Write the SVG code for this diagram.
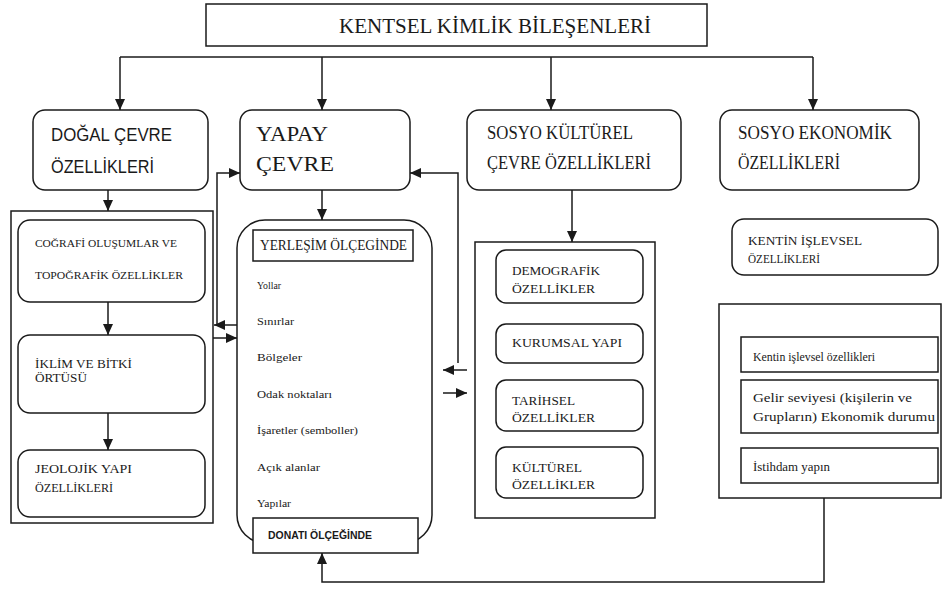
<svg xmlns="http://www.w3.org/2000/svg" width="944" height="593" viewBox="0 0 944 593">
<style>
.b{fill:#fff;stroke:#1a1a1a;stroke-width:1.5}
.c{fill:none;stroke:#1a1a1a;stroke-width:1.5}
text{fill:#1a1a1a}
</style>
<defs>
<marker id="ah" markerUnits="userSpaceOnUse" markerWidth="12" markerHeight="10" refX="11" refY="5" orient="auto">
<path d="M0,0 L11,5 L0,10 z" fill="#1a1a1a"/>
</marker>
</defs>
<rect width="944" height="593" fill="#fff"/>

<g font-family="'Liberation Serif', 'DejaVu Serif', serif">
<g id="kentsel">
<rect class="b" x="206" y="4" width="501" height="42"/>
<text x="339" y="33" font-size="20" textLength="312" lengthAdjust="spacingAndGlyphs">KENTSEL KİMLİK BİLEŞENLERİ</text>
</g>

<g id="dogal">
<rect class="b" x="33" y="110" width="175" height="80" rx="12"/>
<text x="51" y="141" font-size="18" font-family="'Liberation Sans Narrow', 'Liberation Sans', sans-serif" textLength="121" lengthAdjust="spacingAndGlyphs">DOĞAL ÇEVRE</text>
<text x="51" y="173" font-size="18" font-family="'Liberation Sans Narrow', 'Liberation Sans', sans-serif" textLength="103" lengthAdjust="spacingAndGlyphs">ÖZELLİKLERİ</text>
</g>

<g id="yapay">
<rect class="b" x="240" y="110" width="170" height="80" rx="12"/>
<text x="256" y="141" font-size="22" textLength="72" lengthAdjust="spacingAndGlyphs">YAPAY</text>
<text x="256" y="171" font-size="22" textLength="78" lengthAdjust="spacingAndGlyphs">ÇEVRE</text>
</g>

<g id="sosyokulturel">
<rect class="b" x="467" y="110" width="214" height="80" rx="12"/>
<text x="487" y="139" font-size="18" textLength="146" lengthAdjust="spacingAndGlyphs">SOSYO KÜLTÜREL</text>
<text x="487" y="169" font-size="18" textLength="164" lengthAdjust="spacingAndGlyphs">ÇEVRE ÖZELLİKLERİ</text>
</g>

<g id="sosyoekonomik">
<rect class="b" x="720" y="110" width="199" height="80" rx="12"/>
<text x="738" y="139" font-size="18" textLength="154" lengthAdjust="spacingAndGlyphs">SOSYO EKONOMİK</text>
<text x="738" y="169" font-size="18" textLength="102" lengthAdjust="spacingAndGlyphs">ÖZELLİKLERİ</text>
</g>

<g id="dogal-grup">
<rect class="b" x="11" y="211" width="202" height="312"/>
<g id="cografi">
<rect class="b" x="18" y="220" width="187" height="82" rx="12"/>
<text x="35" y="247" font-size="11" textLength="142" lengthAdjust="spacingAndGlyphs">COĞRAFİ OLUŞUMLAR VE</text>
<text x="35" y="279" font-size="11" textLength="148" lengthAdjust="spacingAndGlyphs">TOPOĞRAFİK ÖZELLİKLER</text>
</g>
<g id="iklim">
<rect class="b" x="18" y="335" width="187" height="78" rx="12"/>
<text x="35" y="368" font-size="13" textLength="97" lengthAdjust="spacingAndGlyphs">İKLİM VE BİTKİ</text>
<text x="35" y="382" font-size="13" textLength="52" lengthAdjust="spacingAndGlyphs">ÖRTÜSÜ</text>
</g>
<g id="jeolojik">
<rect class="b" x="18" y="450" width="187" height="67" rx="12"/>
<text x="35" y="473" font-size="13" textLength="97" lengthAdjust="spacingAndGlyphs">JEOLOJİK YAPI</text>
<text x="35" y="492" font-size="13" textLength="78" lengthAdjust="spacingAndGlyphs">ÖZELLİKLERİ</text>
</g>
</g>

<g id="yapay-grup">
<rect class="b" x="237" y="220" width="195" height="323" rx="28"/>
<g id="yerlesim">
<rect class="b" x="253" y="230" width="160" height="31"/>
<text x="260" y="250" font-size="14" textLength="147" lengthAdjust="spacingAndGlyphs">YERLEŞİM ÖLÇEGİNDE</text>
</g>
<text x="257" y="289" font-size="10" textLength="24" lengthAdjust="spacingAndGlyphs">Yollar</text>
<text x="257" y="325" font-size="10" textLength="37" lengthAdjust="spacingAndGlyphs">Sınırlar</text>
<text x="257" y="361" font-size="10" textLength="45" lengthAdjust="spacingAndGlyphs">Bölgeler</text>
<text x="257" y="398" font-size="10" textLength="75" lengthAdjust="spacingAndGlyphs">Odak noktaları</text>
<text x="257" y="434" font-size="10" textLength="101" lengthAdjust="spacingAndGlyphs">İşaretler (semboller)</text>
<text x="257" y="471" font-size="10" textLength="63" lengthAdjust="spacingAndGlyphs">Açık alanlar</text>
<text x="257" y="507" font-size="10" textLength="34" lengthAdjust="spacingAndGlyphs">Yapılar</text>
<g id="donati">
<rect class="b" x="253" y="518" width="165" height="35"/>
<text x="268" y="539" font-size="11" font-weight="bold" font-family="'Liberation Sans', sans-serif" textLength="104" lengthAdjust="spacingAndGlyphs">DONATI ÖLÇEĞİNDE</text>
</g>
</g>

<g id="kulturel-grup">
<rect class="b" x="475" y="242" width="180" height="276"/>
<g id="demografik">
<rect class="b" x="496" y="250" width="147" height="53" rx="10"/>
<text x="512" y="275" font-size="13" textLength="88" lengthAdjust="spacingAndGlyphs">DEMOGRAFİK</text>
<text x="512" y="293" font-size="13" textLength="83" lengthAdjust="spacingAndGlyphs">ÖZELLİKLER</text>
</g>
<g id="kurumsal">
<rect class="b" x="496" y="324" width="147" height="39" rx="10"/>
<text x="512" y="347" font-size="13" textLength="110" lengthAdjust="spacingAndGlyphs">KURUMSAL YAPI</text>
</g>
<g id="tarihsel">
<rect class="b" x="496" y="380" width="147" height="51" rx="10"/>
<text x="512" y="405" font-size="13" textLength="63" lengthAdjust="spacingAndGlyphs">TARİHSEL</text>
<text x="512" y="422" font-size="13" textLength="83" lengthAdjust="spacingAndGlyphs">ÖZELLİKLER</text>
</g>
<g id="kulturel">
<rect class="b" x="496" y="447" width="147" height="51" rx="10"/>
<text x="512" y="472" font-size="13" textLength="70" lengthAdjust="spacingAndGlyphs">KÜLTÜREL</text>
<text x="512" y="489" font-size="13" textLength="83" lengthAdjust="spacingAndGlyphs">ÖZELLİKLER</text>
</g>
</g>

<g id="kentin-islevsel">
<rect class="b" x="732" y="219" width="206" height="56" rx="12"/>
<text x="748" y="245" font-size="12" textLength="114" lengthAdjust="spacingAndGlyphs">KENTİN İŞLEVSEL</text>
<text x="748" y="263" font-size="12" textLength="72" lengthAdjust="spacingAndGlyphs">ÖZELLİKLERİ</text>
</g>

<g id="ekonomik-grup">
<rect class="b" x="719" y="304" width="222" height="194"/>
<g id="islevsel">
<rect class="b" x="741" y="337" width="197" height="35"/>
<text x="753" y="361" font-size="12" textLength="122" lengthAdjust="spacingAndGlyphs">Kentin işlevsel özellikleri</text>
</g>
<g id="gelir">
<rect class="b" x="741" y="380" width="197" height="53"/>
<text x="753" y="402" font-size="12" textLength="159" lengthAdjust="spacingAndGlyphs">Gelir seviyesi (kişilerin ve</text>
<text x="753" y="421" font-size="12" textLength="182" lengthAdjust="spacingAndGlyphs">Grupların) Ekonomik durumu</text>
</g>
<g id="istihdam">
<rect class="b" x="741" y="448" width="197" height="35"/>
<text x="753" y="471" font-size="12" textLength="77" lengthAdjust="spacingAndGlyphs">İstihdam yapın</text>
</g>
</g>
</g>

<g id="connectors">
<path class="c" d="M120,57 H813"/>
<path class="c" d="M120,57 V110" marker-end="url(#ah)"/>
<path class="c" d="M322,57 V110" marker-end="url(#ah)"/>
<path class="c" d="M551,57 V110" marker-end="url(#ah)"/>
<path class="c" d="M813,57 V110" marker-end="url(#ah)"/>
<path class="c" d="M108,190 V211" marker-end="url(#ah)"/>
<path class="c" d="M108,302 V335" marker-end="url(#ah)"/>
<path class="c" d="M108,413 V450" marker-end="url(#ah)"/>
<path class="c" d="M322,190 V220" marker-end="url(#ah)"/>
<path class="c" d="M572,190 V242" marker-end="url(#ah)"/>
<path class="c" d="M217,325 V173 H240" marker-end="url(#ah)"/>
<path class="c" d="M237,325 H214" marker-end="url(#ah)"/>
<path class="c" d="M213,338 H237" marker-end="url(#ah)"/>
<path class="c" d="M458,363 V173 H410" marker-end="url(#ah)"/>
<path class="c" d="M467,370 H443" marker-end="url(#ah)"/>
<path class="c" d="M443,393 H467" marker-end="url(#ah)"/>
<path class="c" d="M824,498 V582 H322 V553" marker-end="url(#ah)"/>
</g>
</svg>
